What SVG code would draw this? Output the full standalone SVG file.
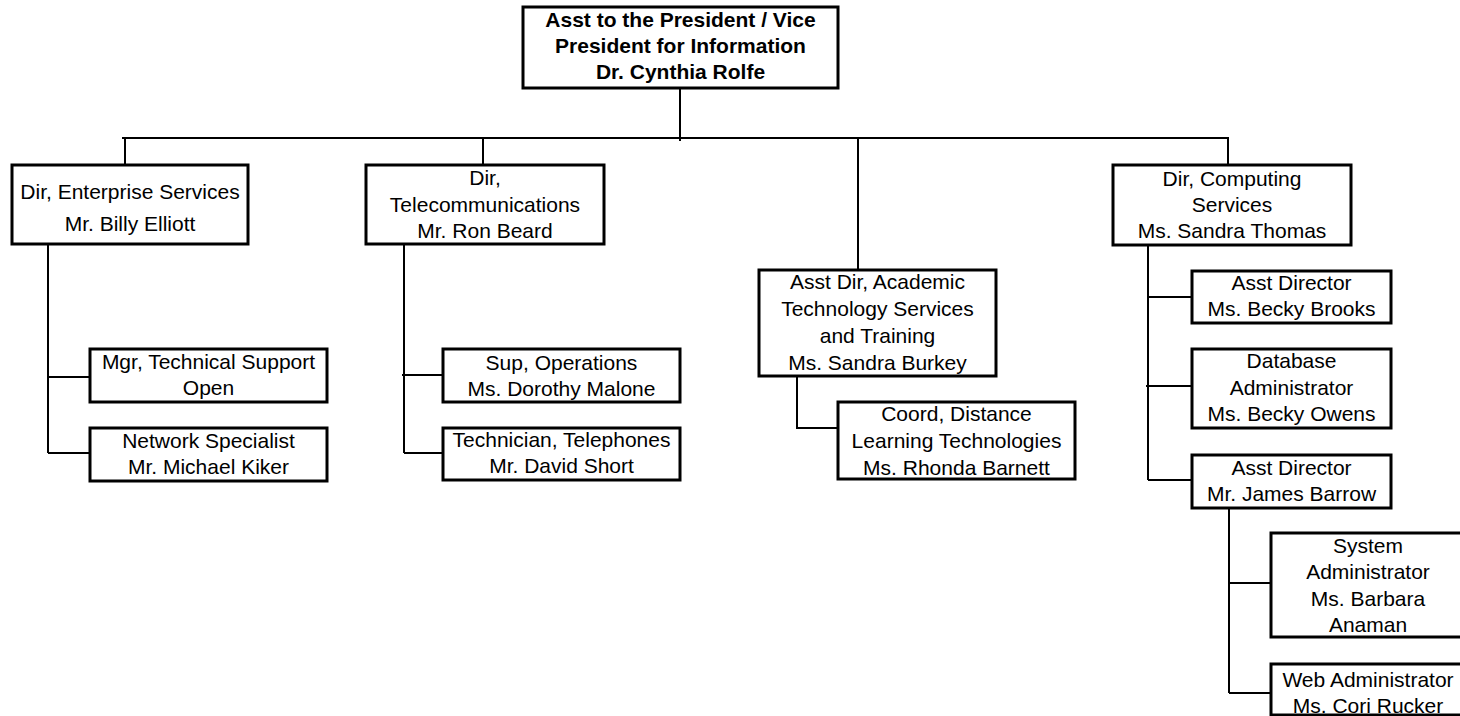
<svg xmlns="http://www.w3.org/2000/svg" width="1460" height="716" viewBox="0 0 1460 716">
<style>
.box{fill:#fff;stroke:#000;stroke-width:3}
.ln{stroke:#000;stroke-width:2;fill:none}
text{font-family:"Liberation Sans",Arial,sans-serif;font-size:21px;fill:#000;text-anchor:middle}
.b{font-weight:bold}
</style>
<rect width="1460" height="716" fill="#fff"/>
<g id="connectors" class="ln">
<path d="M680,88 V141"/>
<path d="M122,138 H1229"/>
<path d="M125,138 V165"/>
<path d="M483,138 V165"/>
<path d="M858,138 V270"/>
<path d="M1228,138 V165"/>
<path d="M48,244 V453 M48,377 H90 M48,453 H90"/>
<path d="M404,244 V453 M402,375 H443 M404,453 H443"/>
<path d="M797,376 V428 H838"/>
<path d="M1148,245 V480 M1148,297 H1192 M1146,386 H1192 M1148,480 H1192"/>
<path d="M1229,508 V693 M1229,583 H1271 M1229,693 H1271"/>
</g>
<g id="n-president">
<rect class="box" x="523" y="7" width="315" height="81"/>
<text class="b" x="680.5" y="26.5">Asst to the President / Vice</text>
<text class="b" x="680.5" y="52.5">President for Information</text>
<text class="b" x="680.5" y="78.5">Dr. Cynthia Rolfe</text>
</g>
<g id="n-enterprise">
<rect class="box" x="12" y="165" width="236" height="79"/>
<text x="130" y="199">Dir, Enterprise Services</text>
<text x="130" y="231">Mr. Billy Elliott</text>
</g>
<g id="n-telecom">
<rect class="box" x="366" y="165" width="238" height="79"/>
<text x="485" y="185">Dir,</text>
<text x="485" y="212">Telecommunications</text>
<text x="485" y="238">Mr. Ron Beard</text>
</g>
<g id="n-academic">
<rect class="box" x="759" y="270" width="237" height="106"/>
<text x="877.5" y="288.5">Asst Dir, Academic</text>
<text x="877.5" y="316">Technology Services</text>
<text x="877.5" y="343">and Training</text>
<text x="877.5" y="369.5">Ms. Sandra Burkey</text>
</g>
<g id="n-computing">
<rect class="box" x="1113" y="165" width="238" height="80"/>
<text x="1232" y="186">Dir, Computing</text>
<text x="1232" y="212">Services</text>
<text x="1232" y="238">Ms. Sandra Thomas</text>
</g>
<g id="n-distance">
<rect class="box" x="838" y="402" width="237" height="77"/>
<text x="956.5" y="421">Coord, Distance</text>
<text x="956.5" y="448">Learning Technologies</text>
<text x="956.5" y="474.5">Ms. Rhonda Barnett</text>
</g>
<g id="n-techsupport">
<rect class="box" x="90" y="349" width="237" height="53"/>
<text x="208.5" y="368.5">Mgr, Technical Support</text>
<text x="208.5" y="395">Open</text>
</g>
<g id="n-network">
<rect class="box" x="90" y="428" width="237" height="53"/>
<text x="208.5" y="448">Network Specialist</text>
<text x="208.5" y="474">Mr. Michael Kiker</text>
</g>
<g id="n-operations">
<rect class="box" x="443" y="349" width="237" height="53"/>
<text x="561.5" y="369.5">Sup, Operations</text>
<text x="561.5" y="395.5">Ms. Dorothy Malone</text>
</g>
<g id="n-telephones">
<rect class="box" x="443" y="428" width="237" height="52"/>
<text x="561.5" y="447">Technician, Telephones</text>
<text x="561.5" y="473">Mr. David Short</text>
</g>
<g id="n-brooks">
<rect class="box" x="1192" y="271" width="199" height="52"/>
<text x="1291.5" y="290">Asst Director</text>
<text x="1291.5" y="316">Ms. Becky Brooks</text>
</g>
<g id="n-owens">
<rect class="box" x="1192" y="349" width="199" height="79"/>
<text x="1291.5" y="368">Database</text>
<text x="1291.5" y="395">Administrator</text>
<text x="1291.5" y="421">Ms. Becky Owens</text>
</g>
<g id="n-barrow">
<rect class="box" x="1192" y="455" width="199" height="53"/>
<text x="1291.5" y="474.5">Asst Director</text>
<text x="1291.5" y="501">Mr. James Barrow</text>
</g>
<g id="n-sysadmin">
<rect class="box" x="1271" y="533" width="194" height="104"/>
<text x="1368" y="552.5">System</text>
<text x="1368" y="579">Administrator</text>
<text x="1368" y="605.5">Ms. Barbara</text>
<text x="1368" y="632">Anaman</text>
</g>
<g id="n-webadmin">
<rect class="box" x="1271" y="664" width="194" height="51"/>
<text x="1368" y="687">Web Administrator</text>
<text x="1368" y="713">Ms. Cori Rucker</text>
</g>
</svg>
